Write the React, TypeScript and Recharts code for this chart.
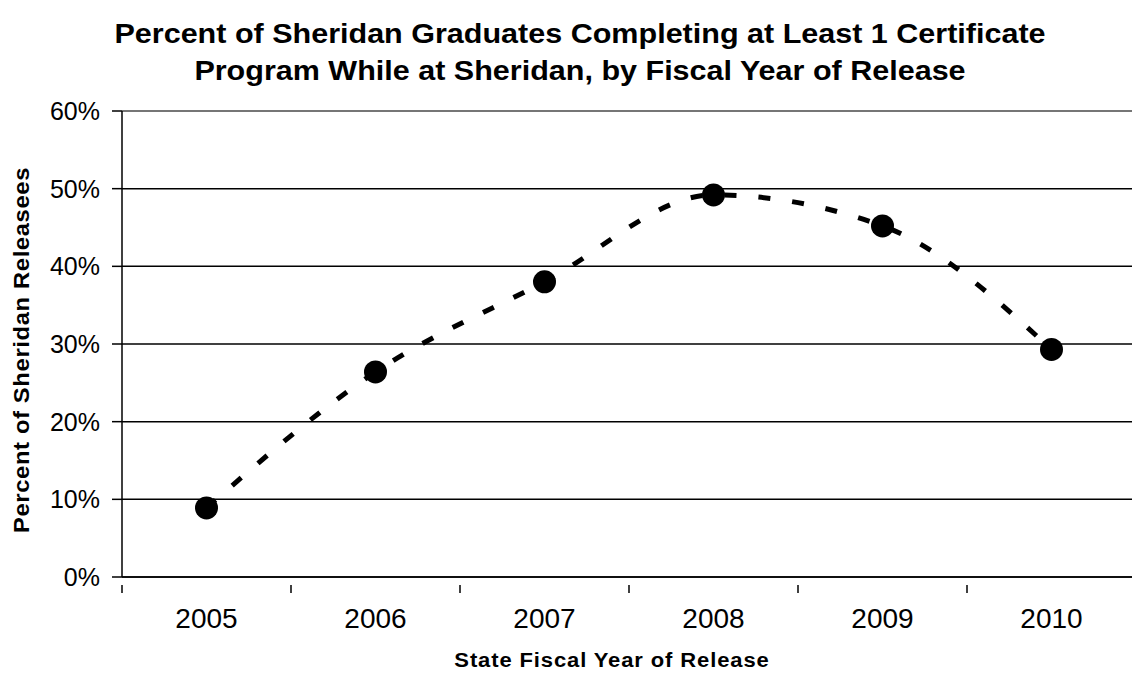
import { LineChart, Line, XAxis, YAxis, CartesianGrid, ReferenceLine } from 'recharts'

const years = ['2005', '2006', '2007', '2008', '2009', '2010']
const pctCompleting = [0.089, 0.264, 0.38, 0.492, 0.452, 0.293]
const yTicks = [0, 0.1, 0.2, 0.3, 0.4, 0.5, 0.6]

const data = years.map((year, i) => ({ x: i + 0.5, year, value: pctCompleting[i] }))
// ticks at band centres (labels) and band edges (tick marks)
const xTicks = years.flatMap((_, i) => [i, i + 0.5]).concat(years.length)

const FONT = '"Liberation Sans", Arial, sans-serif'

function XTick(props: any) {
  const { x, y, payload } = props
  const v = payload.value as number
  if (Number.isInteger(v)) {
    return <line x1={x} x2={x} y1={y} y2={y + 8} stroke="#000" strokeWidth={1.5} />
  }
  return (
    <text x={x} y={y + 43} textAnchor="middle" fontSize={28} fontFamily={FONT} fill="#000">
      {years[Math.floor(v)]}
    </text>
  )
}

export default function App() {
  return (
    <div style={{ position: 'fixed', left: 0, top: 0, width: 1132, height: 675, overflow: 'hidden', background: '#fff', fontFamily: FONT }}>
      <div
        style={{
          position: 'absolute', left: 0, top: 15, width: 1160, textAlign: 'center', fontWeight: 'bold', fontSize: 28,
          lineHeight: '37px', transform: 'scaleX(1.09)', transformOrigin: '580px 0',
        }}
      >
        Percent of Sheridan Graduates Completing at Least 1 Certificate<br />
        Program While at Sheridan, by Fiscal Year of Release
      </div>
      <LineChart width={1140} height={675} data={data} margin={{ top: 111, right: 4, bottom: 68, left: 0 }}>
        <CartesianGrid vertical={false} stroke="#000" strokeWidth={1.5} />
        <ReferenceLine y={0.6} stroke="#888" strokeWidth={1.5} />
        <XAxis
          dataKey="x"
          type="number"
          domain={[0, years.length]}
          ticks={xTicks}
          interval={0}
          height={30}
          tick={<XTick />}
          tickLine={false}
          axisLine={{ stroke: '#000', strokeWidth: 1.5 }}
        />
        <YAxis
          width={122}
          domain={[0, 0.6]}
          ticks={yTicks}
          interval={0}
          tickFormatter={(v: number) => `${Math.round(v * 100)}%`}
          tick={{ fontSize: 25, fontFamily: FONT, fill: '#000' }}
          tickSize={10}
          tickMargin={12}
          tickLine={{ stroke: '#000', strokeWidth: 1.5 }}
          axisLine={{ stroke: '#000', strokeWidth: 1.5 }}
        />
        <Line
          type="monotone"
          dataKey="value"
          stroke="#000"
          strokeWidth={5}
          strokeDasharray="12 22"
          dot={{ r: 11.5, fill: '#000', stroke: 'none' }}
          activeDot={false}
          isAnimationActive={false}
        />
      </LineChart>
      <div
        style={{
          position: 'absolute', left: 312, width: 600, top: 647, textAlign: 'center', fontWeight: 'bold', fontSize: 20,
          lineHeight: '26px', letterSpacing: 0.8, transform: 'scaleX(1.1)',
        }}
      >
        State Fiscal Year of Release
      </div>
      <div
        style={{
          position: 'absolute', left: 22, top: 350, width: 500, textAlign: 'center', fontWeight: 'bold', fontSize: 22,
          lineHeight: '26px', letterSpacing: 0.6, transform: 'translate(-50%, -50%) rotate(-90deg) scaleX(1.08)',
        }}
      >
        Percent of Sheridan Releasees
      </div>
    </div>
  )
}
